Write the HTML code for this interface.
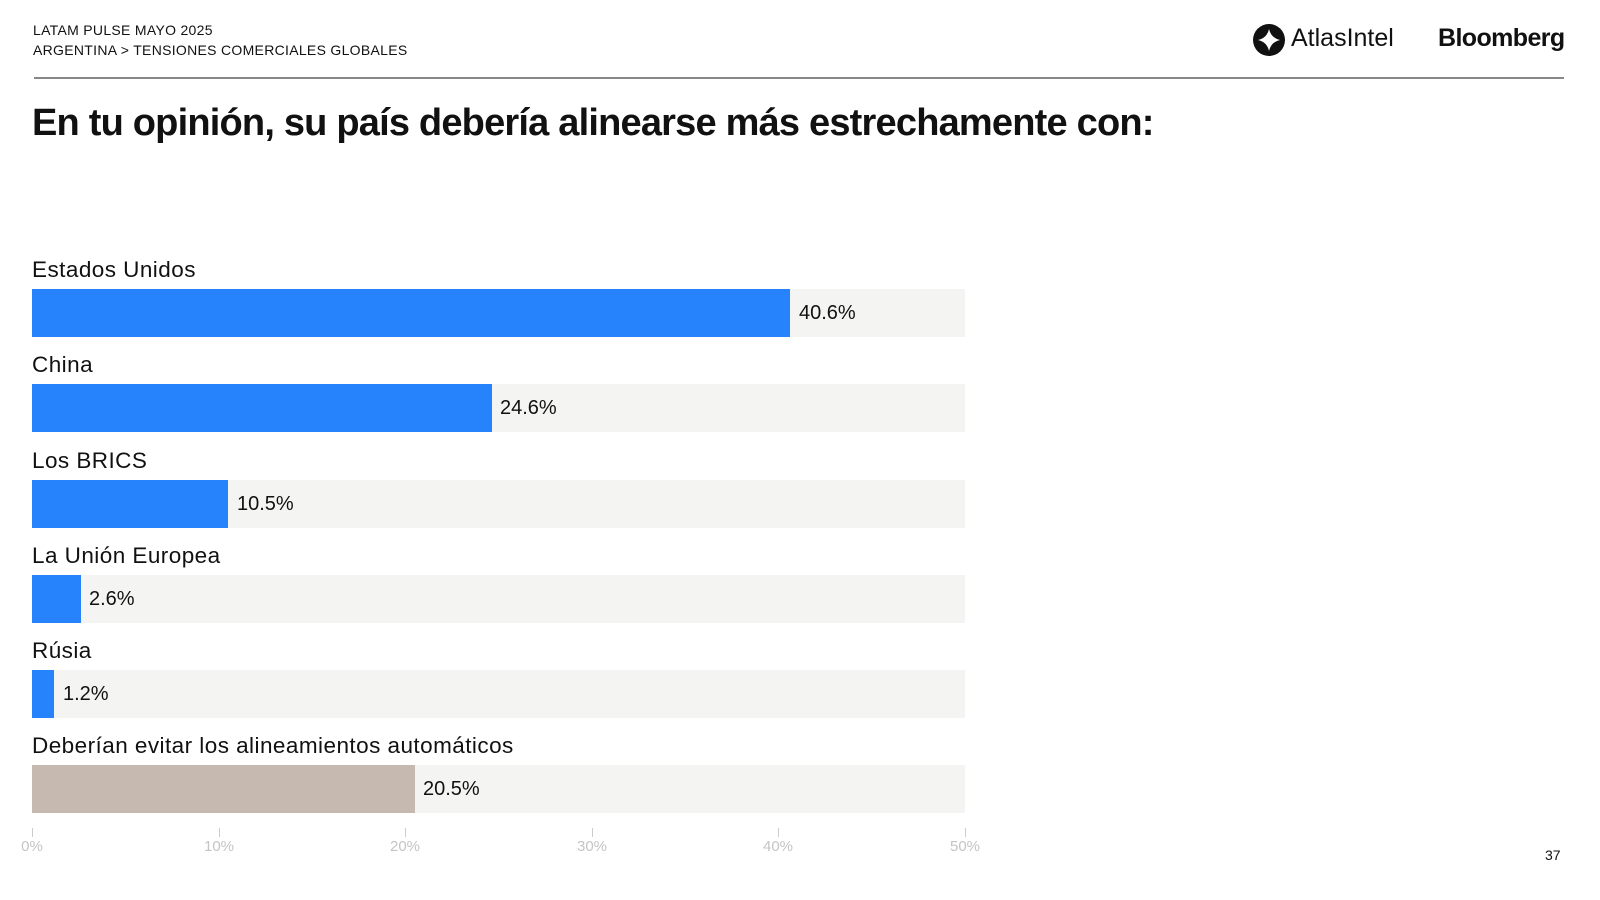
<!DOCTYPE html>
<html><head><meta charset="utf-8"><style>
body{margin:0;width:1600px;height:900px;background:#fff;font-family:"Liberation Sans",sans-serif;color:#111;position:relative;overflow:hidden}
.a{position:absolute;white-space:nowrap}
.bg{position:absolute;left:32px;width:933px;height:48px;background:#f4f4f2}
.b{position:absolute;left:32px;height:48px;background:#2783fb}
.v{position:absolute;font-size:20px;line-height:48px}
.l{position:absolute;left:32px;font-size:22.5px;letter-spacing:0.45px}
.t{position:absolute;width:1px;height:9px;background:#ccc;top:828px}
.tl{position:absolute;top:838px;font-size:15px;color:#c4c4c4;width:60px;text-align:center}
</style></head><body>
<div class="a" style="left:33px;top:22px;font-size:14px;letter-spacing:0.3px">LATAM PULSE MAYO 2025</div>
<div class="a" style="left:33px;top:42px;font-size:14px;letter-spacing:0.3px">ARGENTINA &gt; TENSIONES COMERCIALES GLOBALES</div>
<svg class="a" style="left:1252px;top:23px" width="34" height="34" viewBox="0 0 34 34"><circle cx="17" cy="17" r="16" fill="#111"/><path d="M17 6 Q19 15 28 17 Q19 19 17 28 Q15 19 6 17 Q15 15 17 6Z" fill="#fff"/></svg>
<div class="a" style="left:1291px;top:24px;font-size:25px">AtlasIntel</div>
<div class="a" style="left:1438px;top:24px;font-size:25px;font-weight:bold;letter-spacing:-0.6px">Bloomberg</div>
<div class="a" style="left:34px;top:77px;width:1530px;height:2px;background:#888"></div>
<div class="a" style="left:32px;top:102px;font-size:38px;font-weight:bold;letter-spacing:-0.8px">En tu opinión, su país debería alinearse más estrechamente con:</div>

<div class="l" style="top:257px">Estados Unidos</div>
<div class="bg" style="top:289px"></div><div class="b" style="top:289px;width:758px"></div><div class="v" style="top:289px;left:799px">40.6%</div>
<div class="l" style="top:352px">China</div>
<div class="bg" style="top:384px"></div><div class="b" style="top:384px;width:460px"></div><div class="v" style="top:384px;left:500px">24.6%</div>
<div class="l" style="top:448px">Los BRICS</div>
<div class="bg" style="top:480px"></div><div class="b" style="top:480px;width:196px"></div><div class="v" style="top:480px;left:237px">10.5%</div>
<div class="l" style="top:543px">La Unión Europea</div>
<div class="bg" style="top:575px"></div><div class="b" style="top:575px;width:49px"></div><div class="v" style="top:575px;left:89px">2.6%</div>
<div class="l" style="top:638px">Rúsia</div>
<div class="bg" style="top:670px"></div><div class="b" style="top:670px;width:22px"></div><div class="v" style="top:670px;left:63px">1.2%</div>
<div class="l" style="top:733px">Deberían evitar los alineamientos automáticos</div>
<div class="bg" style="top:765px"></div><div class="b" style="top:765px;width:383px;background:#c5b9b0"></div><div class="v" style="top:765px;left:423px">20.5%</div>

<div class="t" style="left:32px"></div><div class="tl" style="left:2px">0%</div>
<div class="t" style="left:219px"></div><div class="tl" style="left:189px">10%</div>
<div class="t" style="left:405px"></div><div class="tl" style="left:375px">20%</div>
<div class="t" style="left:592px"></div><div class="tl" style="left:562px">30%</div>
<div class="t" style="left:778px"></div><div class="tl" style="left:748px">40%</div>
<div class="t" style="left:965px"></div><div class="tl" style="left:935px">50%</div>
<div class="a" style="left:1545px;top:847px;font-size:14px">37</div>
</body></html>
